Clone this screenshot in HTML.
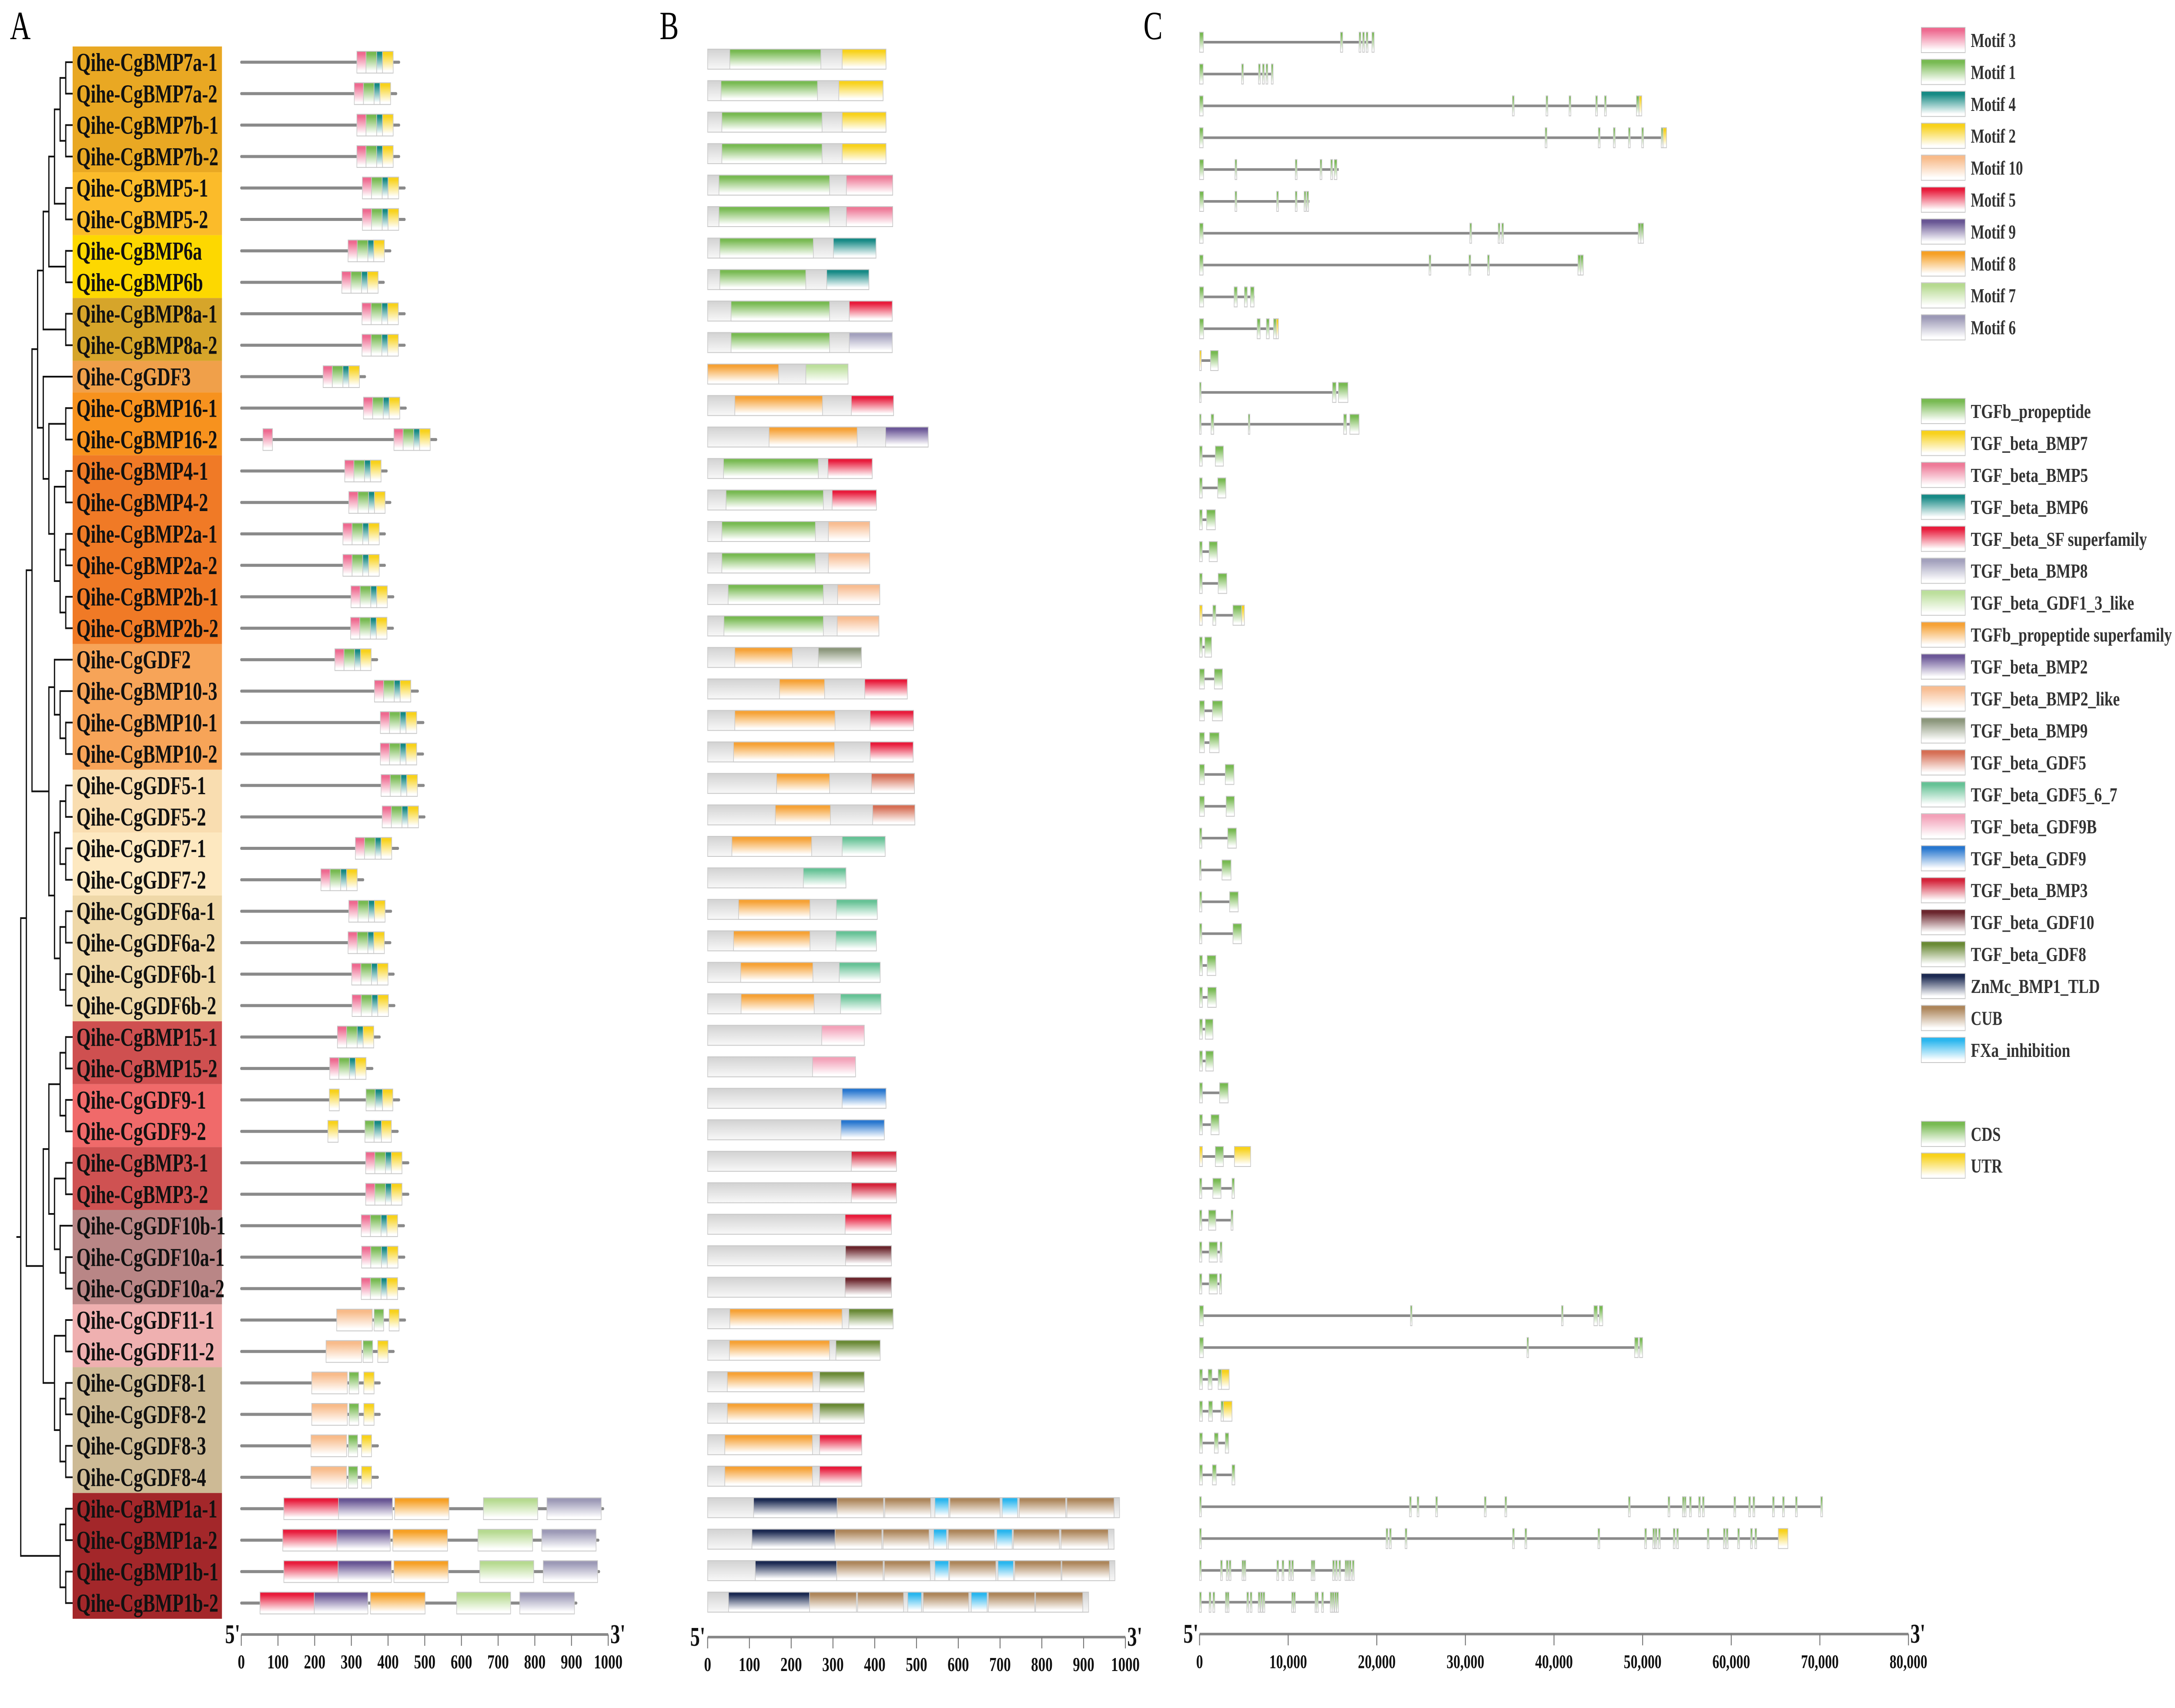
<!DOCTYPE html>
<html><head><meta charset="utf-8"><title>BMP gene family figure</title>
<style>html,body{margin:0;padding:0;background:#fff;width:100%;height:100%;overflow:hidden}svg{display:block;width:100vw;height:100vh}text{font-family:"Liberation Serif",serif}</style>
</head><body>
<svg id="fig" xmlns="http://www.w3.org/2000/svg" viewBox="0 0 6977 3927" preserveAspectRatio="none">
<defs id="defs"></defs>
<text x="32" y="90" font-size="92">A</text>
<text x="2116" y="90" font-size="92">B</text>
<text x="3668" y="90" font-size="92">C</text>
<g id="gA"></g>
<g id="gB"></g>
<g id="gC"></g>
<g id="gL"></g>
</svg>
<script>
const geneNames = ["Qihe-CgBMP7a-1","Qihe-CgBMP7a-2","Qihe-CgBMP7b-1","Qihe-CgBMP7b-2","Qihe-CgBMP5-1","Qihe-CgBMP5-2","Qihe-CgBMP6a","Qihe-CgBMP6b","Qihe-CgBMP8a-1","Qihe-CgBMP8a-2","Qihe-CgGDF3","Qihe-CgBMP16-1","Qihe-CgBMP16-2","Qihe-CgBMP4-1","Qihe-CgBMP4-2","Qihe-CgBMP2a-1","Qihe-CgBMP2a-2","Qihe-CgBMP2b-1","Qihe-CgBMP2b-2","Qihe-CgGDF2","Qihe-CgBMP10-3","Qihe-CgBMP10-1","Qihe-CgBMP10-2","Qihe-CgGDF5-1","Qihe-CgGDF5-2","Qihe-CgGDF7-1","Qihe-CgGDF7-2","Qihe-CgGDF6a-1","Qihe-CgGDF6a-2","Qihe-CgGDF6b-1","Qihe-CgGDF6b-2","Qihe-CgBMP15-1","Qihe-CgBMP15-2","Qihe-CgGDF9-1","Qihe-CgGDF9-2","Qihe-CgBMP3-1","Qihe-CgBMP3-2","Qihe-CgGDF10b-1","Qihe-CgGDF10a-1","Qihe-CgGDF10a-2","Qihe-CgGDF11-1","Qihe-CgGDF11-2","Qihe-CgGDF8-1","Qihe-CgGDF8-2","Qihe-CgGDF8-3","Qihe-CgGDF8-4","Qihe-CgBMP1a-1","Qihe-CgBMP1a-2","Qihe-CgBMP1b-1","Qihe-CgBMP1b-2"];

// Panel A: protein length and motif block start (motif 3,1,4,2 block)
const proteinLenA = [430,422,430,430,445,445,406,388,445,445,337,448,531,396,406,391,391,414,413,370,481,496,495,497,499,427,332,408,406,415,417,377,357,430,426,455,455,443,444,443,446,415,377,377,372,372,986,973,975,913];
const blockStartA = [315,308,315,315,330,330,291,274,329,329,223,333,416,282,293,277,277,299,298,255,363,379,379,381,384,311,217,293,291,301,302,262,241,null,null,339,339,327,328,327,null,null,null,null,null,null,null,null,null,null];
const blockMotifs = [["m3",0,25],["m1",25,54],["m4",54,70],["m2",70,99]];
const extraMotifsA = {
 12:[["m3",59,85]],
 33:[["m2",240,267],["m1",340,365],["m4",365,385],["m2",385,413]],
 34:[["m2",236,264],["m1",337,362],["m4",362,382],["m2",382,409]],
 40:[["m10",260,357],["m1",362,388],["m2",403,430]],
 41:[["m10",231,328],["m1",332,358],["m2",372,400]],
 42:[["m10",192,289],["m1",294,320],["m2",334,362]],
 43:[["m10",192,289],["m1",294,320],["m2",334,362]],
 44:[["m10",190,287],["m1",292,317],["m2",328,355]],
 45:[["m10",190,287],["m1",292,317],["m2",328,355]],
 46:[["m5",116,265],["m9",265,412],["m8",418,566],["m7",660,808],["m6",833,981]],
 47:[["m5",113,261],["m9",261,406],["m8",413,562],["m7",645,794],["m6",819,967]],
 48:[["m5",116,264],["m9",264,409],["m8",416,564],["m7",650,797],["m6",823,971]],
 49:[["m5",51,199],["m9",199,345],["m8",352,501],["m7",587,734],["m6",759,908]]
};
const axisTicksA = [0,100,200,300,400,500,600,700,800,900,1000];

// Panel B: protein length and domains
const proteinLenB = [427,420,427,427,443,443,403,386,442,442,336,445,528,394,404,388,388,412,410,368,478,493,492,495,496,425,331,406,404,413,415,375,354,427,423,452,452,440,440,440,444,413,375,375,369,369,986,973,975,912];
const domainsB = [
 [["prop",53,271],["bmp7",322,427]],[["prop",32,263],["bmp7",314,420]],[["prop",34,274],["bmp7",322,427]],[["prop",34,274],["bmp7",322,427]],
 [["prop",27,292],["bmp5",332,443]],[["prop",27,292],["bmp5",332,443]],[["prop",29,253],["bmp6",301,403]],[["prop",29,235],["bmp6",285,386]],
 [["prop",56,292],["sf",339,442]],[["prop",56,292],["bmp8",339,442]],[["propsf",0,170],["gdf13",235,336]],[["propsf",65,275],["sf",344,445]],
 [["propsf",147,358],["bmp2",426,528]],[["prop",38,265],["sf",288,394]],[["prop",44,277],["sf",298,404]],[["prop",34,258],["bmp2l",289,388]],
 [["prop",34,258],["bmp2l",289,388]],[["prop",49,277],["bmp2l",311,412]],[["prop",39,277],["bmp2l",310,410]],[["propsf",65,203],["bmp9",265,368]],
 [["propsf",172,280],["sf",376,478]],[["propsf",65,305],["sf",389,493]],[["propsf",62,304],["sf",389,492]],[["propsf",165,292],["gdf5",392,495]],
 [["propsf",162,294],["gdf5",395,496]],[["propsf",58,249],["gdf567",322,425]],[["gdf567",229,331]],[["propsf",74,245],["gdf567",308,406]],
 [["propsf",62,245],["gdf567",307,404]],[["propsf",79,252],["gdf567",315,413]],[["propsf",80,255],["gdf567",318,415]],[["gdf9b",273,375]],
 [["gdf9b",251,354]],[["gdf9",322,427]],[["gdf9",319,423]],[["bmp3",344,452]],[["bmp3",344,452]],[["sf",329,440]],[["gdf10",330,440]],[["gdf10",329,440]],
 [["propsf",53,322],["gdf8",338,444]],[["propsf",52,292],["gdf8",307,413]],[["propsf",47,252],["gdf8",268,375]],[["propsf",47,252],["gdf8",268,375]],
 [["propsf",41,251],["sf",268,369]],[["propsf",41,251],["sf",268,369]],
 [["znmc",110,310],["cub",310,421],["cub",424,534],["fxa",544,577],["cub",580,700],["fxa",705,742],["cub",746,857],["cub",860,973]],
 [["znmc",106,305],["cub",305,417],["cub",420,530],["fxa",541,572],["cub",576,687],["fxa",692,729],["cub",732,842],["cub",846,959]],
 [["znmc",114,309],["cub",309,420],["cub",423,533],["fxa",544,577],["cub",579,690],["fxa",695,732],["cub",735,846],["cub",848,962]],
 [["znmc",50,244],["cub",244,356],["cub",359,469],["fxa",479,512],["cub",516,625],["fxa",631,669],["cub",672,783],["cub",785,898]]
];
const axisTicksB = [0,100,200,300,400,500,600,700,800,900,1000];

// Panel C: gene length and exons [start,end,type]
const geneLenC = [19700,8300,49900,52700,15700,12400,50100,43300,6200,8900,2100,16740,18000,2690,2960,1780,2000,3070,5060,1350,2580,2580,2200,3880,3930,4150,3550,4360,4740,1830,1880,1510,1560,3230,2200,5760,3930,3770,2530,2480,45500,50000,3340,3660,3280,3980,70300,66400,17440,15670];
const exonsC = [
 [[0,430,"c"],[15900,16150,"c"],[18000,18200,"c"],[18400,18600,"c"],[18800,19000,"c"],[19450,19700,"c"]],
 [[0,400,"c"],[4750,4950,"c"],[6650,6850,"c"],[7100,7300,"c"],[7500,7700,"c"],[8100,8300,"c"]],
 [[0,400,"c"],[35300,35500,"c"],[39100,39300,"c"],[41700,41900,"c"],[44700,44900,"c"],[45700,45900,"c"],[49300,49600,"c"],[49600,49900,"u"]],
 [[0,400,"c"],[39000,39200,"c"],[45000,45200,"c"],[46700,46900,"c"],[48400,48600,"c"],[49900,50100,"c"],[52100,52300,"c"],[52300,52700,"u"]],
 [[0,450,"c"],[4000,4200,"c"],[10800,11000,"c"],[13600,13800,"c"],[14800,15000,"c"],[15200,15500,"c"]],
 [[0,450,"c"],[4000,4200,"c"],[8700,8900,"c"],[10800,11000,"c"],[11800,12000,"c"],[12100,12300,"c"]],
 [[0,400,"c"],[30500,30700,"c"],[33700,33900,"c"],[34100,34300,"c"],[49500,49800,"c"],[49800,50100,"c"]],
 [[0,400,"c"],[25900,26100,"c"],[30400,30600,"c"],[32500,32700,"c"],[42700,43000,"c"],[43000,43300,"c"]],
 [[0,450,"c"],[3900,4250,"c"],[5060,5380,"c"],[5750,6150,"c"]],
 [[0,450,"c"],[6500,6840,"c"],[7540,7860,"c"],[8350,8650,"c"],[8650,8900,"u"]],
 [[0,200,"u"],[1240,2100,"c"]],
 [[0,80,"c"],[15000,15400,"c"],[15670,16740,"c"]],
 [[0,80,"c"],[1300,1600,"c"],[5500,5580,"c"],[16260,16580,"c"],[16960,18000,"c"]],
 [[0,300,"c"],[1780,2690,"c"]],[[0,300,"c"],[2050,2960,"c"]],[[0,300,"c"],[800,1780,"c"]],[[0,300,"c"],[1080,2000,"c"]],[[0,300,"c"],[2100,3070,"c"]],
 [[0,300,"u"],[1500,1830,"c"],[3770,4740,"c"],[4740,5060,"u"]],
 [[0,300,"c"],[590,1350,"c"]],[[0,540,"c"],[1670,2580,"c"]],[[0,540,"c"],[1450,2580,"c"]],[[0,540,"c"],[1130,2200,"c"]],[[0,540,"c"],[2900,3880,"c"]],[[0,540,"c"],[3000,3930,"c"]],
 [[0,250,"c"],[3180,4150,"c"]],[[0,60,"c"],[2530,3550,"c"]],[[0,250,"c"],[3390,4360,"c"]],[[0,250,"c"],[3770,4740,"c"]],
 [[0,320,"c"],[860,1830,"c"]],[[0,320,"c"],[915,1880,"c"]],[[0,320,"c"],[650,1510,"c"]],[[0,320,"c"],[700,1560,"c"]],[[0,320,"c"],[2260,3230,"c"]],[[0,320,"c"],[1290,2200,"c"]],
 [[0,320,"u"],[1780,2690,"c"],[3930,5760,"u"]],
 [[0,250,"c"],[1500,2420,"c"],[3660,3930,"c"]],[[0,250,"c"],[1020,1830,"c"],[3550,3770,"c"]],[[0,250,"c"],[1080,2000,"c"],[2310,2530,"c"]],[[0,250,"c"],[1080,2000,"c"],[2260,2480,"c"]],
 [[0,430,"c"],[23800,23880,"c"],[40850,41000,"c"],[44500,44900,"c"],[45100,45500,"c"]],
 [[0,430,"c"],[36950,37030,"c"],[49100,49500,"c"],[49650,50000,"c"]],
 [[0,320,"c"],[970,1400,"c"],[2100,2480,"c"],[2480,3340,"u"]],
 [[0,320,"c"],[1020,1450,"c"],[2420,2690,"c"],[2690,3660,"u"]],
 [[0,320,"c"],[1670,2100,"c"],[2900,3280,"c"]],
 [[0,320,"c"],[1450,1880,"c"],[3660,3980,"c"]],
 [0,23690,24550,26650,32140,34460,48400,52870,54490,54700,55290,56320,56750,60300,61970,62450,64660,65790,67250,70100].map(p=>[p,p+200,"c"]),
 [0,21050,21430,23200,35320,36720,44960,50240,51150,51420,51790,53460,53840,57290,59120,59440,60730,62180,62670].map(p=>[p,p+200,"c"]).concat([[65310,66390,"u"]]),
 [0,2370,3020,3340,4790,5010,8720,9310,10070,10390,12600,12810,15020,15340,15720,16420,16640,16900,17240].map(p=>[p,p+200,"c"]),
 [0,1080,1510,2910,3120,5330,5710,6620,6890,7160,10390,10610,13030,13190,13780,14750,14970,15240,15470].map(p=>[p,p+200,"c"])
];
const axisTicksC = [0,10000,20000,30000,40000,50000,60000,70000,80000];
const axisTickLabelsC = ["0","10,000","20,000","30,000","40,000","50,000","60,000","70,000","80,000"];

const colors = {m3:"#ee6a90",m1:"#78ba52",m4:"#168a84",m2:"#f8d21c",m10:"#f8bb8a",m5:"#e81c3c",m9:"#685694",m8:"#f6a025",m7:"#b6da90",m6:"#9c99b6",
 prop:"#78ba52",bmp7:"#f8d21c",bmp5:"#ee7a98",bmp6:"#178a86",sf:"#e81c3c",bmp8:"#a3a1bd",gdf13:"#bcdf9c",propsf:"#f6a236",bmp2:"#6c5898",bmp2l:"#f8bd92",bmp9:"#8c977c",gdf5:"#d66f55",gdf567:"#66c296",gdf9b:"#f3a2b9",gdf9:"#2877cf",bmp3:"#d4243b",gdf10:"#6b262d",gdf8:"#6a8a36",znmc:"#1c2a52",cub:"#ad865b",fxa:"#2ab6ee",c:"#78ba52",u:"#f8d21c",gray:"#cfcfcf"};
const bandGroups = [[0,3,"#e9a823"],[4,5,"#fbbb2a"],[6,7,"#fdd800"],[8,9,"#d6a52a"],[10,10,"#f0a04a"],[11,12,"#f7921e"],[13,18,"#f07a26"],[19,22,"#f7a458"],[23,24,"#f9ddb0"],[25,26,"#fde8c0"],[27,30,"#efd8a8"],[31,32,"#cf5050"],[33,34,"#f06a6a"],[35,36,"#cf5252"],[37,39,"#b98686"],[40,41,"#efb0b0"],[42,45,"#cdba95"],[46,49,"#a3272a"]];
const tree = [[[[[[[[[0,1],[2,3]],[4,5]],[6,7]],[8,9]],[10,[[11,12],[[13,14],[[15,16],[17,18]]]]]],[[19,[20,[21,22]]],[[[23,24],[25,26]],[[27,28],[29,30]]]]],[[[[31,32],[33,34]],[[35,36],[37,[38,39]]]],[[40,41],[[42,43],[44,45]]]]],[[46,47],[48,49]]];
const motifLegend = [["m3","Motif 3"],["m1","Motif 1"],["m4","Motif 4"],["m2","Motif 2"],["m10","Motif 10"],["m5","Motif 5"],["m9","Motif 9"],["m8","Motif 8"],["m7","Motif 7"],["m6","Motif 6"]];
const domainLegend = [["prop","TGFb_propeptide",385],["bmp7","TGF_beta_BMP7",375],["bmp5","TGF_beta_BMP5",376],["bmp6","TGF_beta_BMP6",376],["sf","TGF_beta_SF superfamily",565],["bmp8","TGF_beta_BMP8",375],["gdf13","TGF_beta_GDF1_3_like",524],["propsf","TGFb_propeptide superfamily",645],["bmp2","TGF_beta_BMP2",375],["bmp2l","TGF_beta_BMP2_like",478],["bmp9","TGF_beta_BMP9",375],["gdf5","TGF_beta_GDF5",370],["gdf567","TGF_beta_GDF5_6_7",470],["gdf9b","TGF_beta_GDF9B",404],["gdf9","TGF_beta_GDF9",370],["bmp3","TGF_beta_BMP3",375],["gdf10","TGF_beta_GDF10",396],["gdf8","TGF_beta_GDF8",370],["znmc","ZnMc_BMP1_TLD",414],["cub","CUB",101],["fxa","FXa_inhibition",319]];
const geneLegend = [["c","CDS",96],["u","UTR",101]];

const NS="http://www.w3.org/2000/svg";
function mk(tag,attrs,parent){const e=document.createElementNS(NS,tag);for(const k in attrs)e.setAttribute(k,attrs[k]);parent.appendChild(e);return e;}
const defs=document.getElementById('defs');
for(const k in colors){const g=mk('linearGradient',{id:'g_'+k,x1:0,y1:0,x2:0,y2:1},defs);
 if(k==='gray'){mk('stop',{offset:'0','stop-color':'#d2d2d2'},g);mk('stop',{offset:'1','stop-color':'#f8f8f8'},g);}
 else{mk('stop',{offset:'0','stop-color':colors[k]},g);mk('stop',{offset:'0.12','stop-color':colors[k]},g);mk('stop',{offset:'0.9','stop-color':'#ffffff'},g);}}

const rowYA=i=>143+i*72.3, rowYB=i=>136+i*72.4, rowYC=i=>97+i*73.2;
const xA=a=>774+a*1.177, xB=a=>2270+a*1.34, xC=b=>3848+b*0.028425;
const gA=document.getElementById('gA'),gB=document.getElementById('gB'),gC=document.getElementById('gC'),gL=document.getElementById('gL');

bandGroups.forEach(b=>{const y0=rowYA(b[0])-36.15,y1=rowYA(b[1])+36.15;
 const r=mk('rect',{x:233,y:y0,width:479,height:y1-y0,fill:b[2]},gA);
 
 });
const leafX=233, step=19;
function drawTree(n){ if(typeof n==='number') return {x:leafX,y:rowYA(n),h:0};
 const kids=n.map(drawTree); const h=Math.max(...kids.map(k=>k.h))+1; const x=leafX-step*h*0.95-4;
 kids.forEach(k=>{const l=mk('line',{x1:x,y1:k.y,x2:k.x,y2:k.y,stroke:'#111','stroke-width':4},gA);
  
  });
 const ys=kids.map(k=>k.y); const v=mk('line',{x1:x,y1:Math.min(...ys)-2,x2:x,y2:Math.max(...ys)+2,stroke:'#111','stroke-width':4},gA);
 
 
 return {x:x,y:(Math.min(...ys)+Math.max(...ys))/2,h:h};}
const root=drawTree(tree);
mk('line',{x1:root.x-14,y1:root.y,x2:root.x,y2:root.y,stroke:'#111','stroke-width':4},gA);

function box(parent,x0,x1,yc,h,key,name){const r=mk('rect',{x:x0,y:yc-h/2,width:Math.max(x1-x0,5),height:h,fill:'url(#g_'+key+')',stroke:'#c9c9c9','stroke-width':2},parent);
 
 return r;}

geneNames.forEach((nm,i)=>{
 const y=rowYA(i);
 const t=mk('text',{x:245,y:y+20,'font-size':59,'font-weight':'bold',fill:'#111'},gA);t.textContent=nm;
 
 
 const l=mk('line',{x1:xA(0),y1:y,x2:xA(proteinLenA[i]),y2:y,stroke:'#8a8a8a','stroke-width':7,'stroke-linecap':'round'},gA);
 
 
 let segs=(extraMotifsA[i]||[]).slice();
 if(blockStartA[i]!==null) blockMotifs.forEach(m=>segs.push([m[0],blockStartA[i]+m[1],blockStartA[i]+m[2]]));
 segs.forEach(s=>box(gA,xA(s[1]),xA(s[2]),y,50,s[0],'motif-'+s[0]));
 const yb=rowYB(i);
 box(gB,xB(0),xB(proteinLenB[i]),yb,46,'gray','protein-bar');
 domainsB[i].forEach(d=>box(gB,xB(d[1]),xB(d[2]),yb,46,d[0],'domain-'+d[0]));
 const yc=rowYC(i);
 const gl=mk('line',{x1:xC(0),y1:yc,x2:xC(geneLenC[i]),y2:yc,stroke:'#8a8a8a','stroke-width':6},gC);
 
 
 exonsC[i].forEach(e=>box(gC,xC(e[0]),xC(e[1]),yc,46,e[2],e[2]==='u'?'utr-exon':'cds-exon'));
});

function axis(parent,x0,x1,y,ticks,labels,fx,fs,name,l5,l3){
 const a=mk('line',{x1:x0,y1:y,x2:x1,y2:y,stroke:'#888','stroke-width':6},parent);
 
 
 ticks.forEach((v,k)=>{const x=fx(v);
  const tk=mk('line',{x1:x,y1:y,x2:x,y2:y+26,stroke:'#777','stroke-width':3},parent);
  
  
  const t=mk('text',{x:x,y:y+78,'font-size':fs,'font-weight':'bold','text-anchor':'middle',fill:'#111'},parent);t.textContent=labels[k];
  
  });
 const t5=mk('text',{x:l5,y:y+20,'font-size':62,'font-weight':'bold',fill:'#111'},parent);t5.textContent="5'";
 
 
 const t3=mk('text',{x:l3,y:y+20,'font-size':62,'font-weight':'bold',fill:'#111'},parent);t3.textContent="3'";
 
 }
axis(gA,xA(0),xA(1000),3758,axisTicksA,axisTicksA.map(String),xA,46,'axis-a',722,1958);
axis(gB,xB(0),xB(1000),3764,axisTicksB,axisTicksB.map(String),xB,46,'axis-b',2214,3616);
axis(gC,xC(0),xC(80000),3757,axisTicksC,axisTickLabelsC,xC,44,'axis-c',3796,6128);

function legendItem(key,label,yc,tl){box(gL,6163,6304,yc,58,key,'legend-swatch');
 const t=mk('text',{x:6322,y:yc+16,'font-size':46,'font-weight':'bold',fill:'#333'},gL);t.textContent=label;
 if(tl){t.setAttribute('textLength',tl);t.setAttribute('lengthAdjust','spacingAndGlyphs');}
 
 }
motifLegend.forEach((m,i)=>legendItem(m[0],m[1],92+i*73.4,null));
domainLegend.forEach((m,i)=>legendItem(m[0],m[1],945+i*73.45,m[2]));
geneLegend.forEach((m,i)=>legendItem(m[0],m[1],2607+i*73,m[2]));
</script>
</body></html>
